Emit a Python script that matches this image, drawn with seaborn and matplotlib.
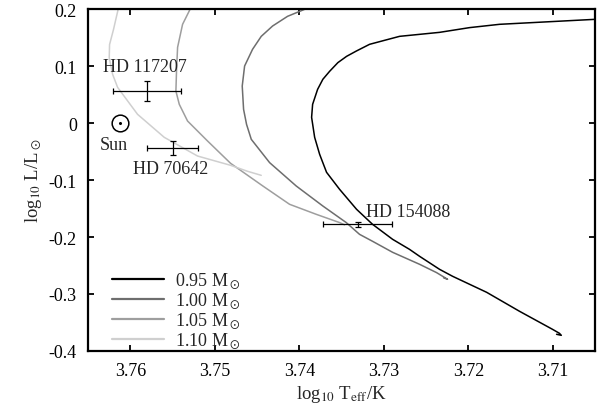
"""HR diagram: evolutionary tracks for 0.95-1.10 Msun with three HD stars and the Sun."""
import matplotlib
matplotlib.use("Agg")
import matplotlib.pyplot as plt
import pandas as pd
import seaborn as sns

# Evolutionary tracks (log Teff, log L/Lsun), ZAMS first
track_095_T = [3.70955, 3.70899, 3.70922, 3.71003, 3.71393, 3.71783, 3.71984, 3.72186,
               3.72340, 3.72576, 3.72696, 3.72896, 3.73133, 3.73322, 3.73523, 3.73677,
               3.73720, 3.73759, 3.73818, 3.73854, 3.73842, 3.73783, 3.73721, 3.73641,
               3.73543, 3.73440, 3.73325, 3.73168, 3.72991, 3.72813, 3.72340, 3.71985,
               3.71630, 3.70506, 3.70210]
track_095_L = [-0.3707, -0.3725, -0.3689, -0.3620, -0.3304, -0.2970, -0.2830, -0.2689,
               -0.2567, -0.2339, -0.2216, -0.2040, -0.1777, -0.1514, -0.1163, -0.0865,
               -0.0700, -0.0549, -0.0251, 0.0100, 0.0328, 0.0591, 0.0767, 0.0907,
               0.1060, 0.1170, 0.1263, 0.1381, 0.1451, 0.1521, 0.1591, 0.1674,
               0.1732, 0.1819, 0.1854]

track_100_T = [3.72292, 3.72245, 3.72375, 3.72576, 3.72896, 3.73133, 3.73287, 3.73444,
               3.73721, 3.74036, 3.74351, 3.74568, 3.74624, 3.74659, 3.74675, 3.74647,
               3.74553, 3.74450, 3.74316, 3.74139, 3.73937, 3.73819]
track_100_L = [-0.2716, -0.2742, -0.2625, -0.2479, -0.2268, -0.2075, -0.1953, -0.1747,
               -0.1456, -0.1105, -0.0695, -0.0286, -0.0023, 0.0240, 0.0649, 0.1000,
               0.1293, 0.1521, 0.1702, 0.1872, 0.1995, 0.2100]

track_105_T = [3.73464, 3.73523, 3.73799, 3.74115, 3.74431, 3.74813, 3.75085, 3.75322,
               3.75420, 3.75460, 3.75452, 3.75440, 3.75381, 3.75263]
track_105_L = [-0.1786, -0.1747, -0.1602, -0.1426, -0.1105, -0.0707, -0.0316, 0.0035,
               0.0328, 0.0561, 0.0942, 0.1328, 0.1732, 0.2083]

track_110_T = [3.74450, 3.74612, 3.74813, 3.75204, 3.75598, 3.75914, 3.76150, 3.76209,
               3.76249, 3.76245, 3.76198, 3.76130]
track_110_L = [-0.0918, -0.0847, -0.0742, -0.0579, -0.0251, 0.0153, 0.0626, 0.0855,
               0.1147, 0.1377, 0.1644, 0.2083]

masses = ["0.95", "1.00", "1.05", "1.10"]
track_colors = ["#000000", "#6e6e6e", "#9e9e9e", "#cfcfcf"]

# Observed stars
star_names = ["HD 117207", "HD 70642", "HD 154088"]
star_T = [3.7580, 3.7550, 3.7331]
star_T_err = [0.0040, 0.0030, 0.0041]
star_L = [0.056, -0.044, -0.178]
star_L_err = [0.018, 0.012, 0.005]

sun_T, sun_L = 3.7612, 0.0

rows = []
for m, ts, ls in zip(masses,
                     [track_095_T, track_100_T, track_105_T, track_110_T],
                     [track_095_L, track_100_L, track_105_L, track_110_L]):
    for i, (t, l) in enumerate(zip(ts, ls)):
        rows.append({"mass": m, "step": i, "logT": t, "logL": l})
df = pd.DataFrame(rows)

sns.set_style("ticks")
plt.rcParams["font.family"] = ["Liberation Serif", "DejaVu Serif"]
plt.rcParams["mathtext.fontset"] = "stix"
plt.rcParams["xtick.direction"] = "in"
plt.rcParams["ytick.direction"] = "in"

fig = plt.figure(figsize=(6, 4.1), dpi=100)
ax = fig.add_axes([0.1467, 0.1415, 0.845, 0.834])

sns.lineplot(data=df, x="logT", y="logL", hue="mass", hue_order=masses,
             palette=track_colors, sort=False, estimator=None, linewidth=1.1,
             ax=ax, legend=False)

ax.errorbar(star_T, star_L, xerr=star_T_err, yerr=star_L_err, fmt="none",
            ecolor="black", elinewidth=0.9, capsize=2.5, capthick=0.9)

ax.plot([sun_T], [sun_L], "o", ms=12, mfc="none", mec="black", mew=1.1)
ax.plot([sun_T], [sun_L], "o", ms=1.2, color="black")

fs = 13
ax.text(3.75825, 0.100, star_names[0], ha="center", va="center", fontsize=fs)
ax.text(3.75523, -0.0795, star_names[1], ha="center", va="center", fontsize=fs)
ax.text(3.73207, -0.1544, star_names[2], ha="left", va="center", fontsize=fs)
ax.text(3.76198, -0.0374, "Sun", ha="center", va="center", fontsize=fs)

ax.set_xlim(3.765, 3.705)
ax.set_ylim(-0.4, 0.2)
ax.set_xticks([3.76, 3.75, 3.74, 3.73, 3.72, 3.71])
ax.set_yticks([-0.4, -0.3, -0.2, -0.1, 0, 0.1, 0.2])
ax.set_yticklabels(["-0.4", "-0.3", "-0.2", "-0.1", "0", "0.1", "0.2"])
ax.tick_params(which="both", top=True, right=True, length=4, width=1.3,
               labelsize=13, colors="black", pad=8)
for sp in ax.spines.values():
    sp.set_linewidth(1.6)
    sp.set_color("black")

ax.set_xlabel(r"log$_{10}$ T$_{\rm eff}$/K", fontsize=13.5, labelpad=3)
ax.set_ylabel(r"log$_{10}$ L/L$_\odot$", fontsize=13.5, labelpad=3)

handles = [plt.Line2D([], [], color=c, lw=1.6) for c in track_colors]
labels = [m + r" M$_\odot$" for m in masses]
ax.legend(handles, labels, loc="lower left", bbox_to_anchor=(0.025, -0.03),
          frameon=False, fontsize=13, handlelength=2.9, handletextpad=0.6,
          labelspacing=0.0, borderaxespad=0.2)

fig.savefig("out.png", dpi=100)
